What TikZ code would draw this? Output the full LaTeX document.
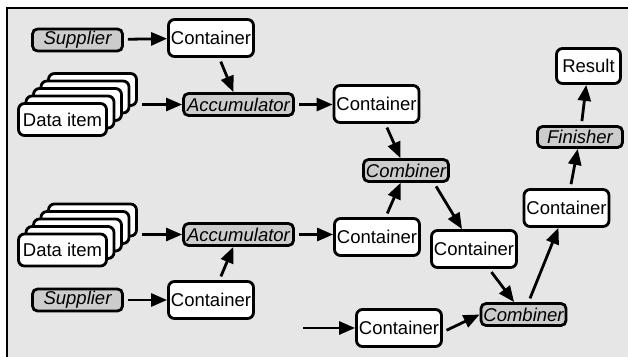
\documentclass[tikz,border=0pt]{standalone}
\usepackage{fontspec}
\setmainfont{Liberation Sans}
\usepackage{xcolor}
\usetikzlibrary{arrows.meta}
\definecolor{panelgray}{HTML}{E6E6E6}
\definecolor{stepgray}{HTML}{CCCCCC}

\begin{document}
\begin{tikzpicture}[x=1pt,y=-1pt,
	box/.style={draw, line width=2.8pt, rounded corners=6pt, fill=white, inner sep=0pt, font=\fontsize{18.5}{20}\selectfont},
	container/.style={box, minimum width=85pt, minimum height=37pt},
	dataitem/.style={box, minimum width=88pt, minimum height=32pt},
	func/.style={box, fill=stepgray, rounded corners=5pt, font=\fontsize{18.5}{20}\selectfont\itshape, minimum height=22pt},
	arr/.style={line width=2.8pt, -{Triangle[length=16pt,width=13pt]}, shorten <=4pt}]
\useasboundingbox (0,0) rectangle (628,356);
\fill[panelgray] (6,7) rectangle (640,370);
\draw[line width=2.8pt] (7,370) -- (7,8) -- (640,8);

\node[func, minimum width=90pt] (sup1) at (77.5,40) {Supplier};
\node[container] (cont1) at (211,38) {Container};
\node[dataitem] (data1d) at (92.5,89.5) {};
\node[dataitem] (data1c) at (85,97) {};
\node[dataitem] (data1b) at (77.5,104.5) {};
\node[dataitem] (data1a) at (70,112) {};
\node[dataitem] (data1) at (62.5,119.5) {Data item};
\node[func, minimum width=110pt] (acc1) at (238.5,104.5) {Accumulator};
\node[container] (cont2) at (376.5,104) {Container};
\node[func, minimum width=85pt] (comb1) at (406,170.5) {Combiner};

\node[dataitem] (data2d) at (92.5,220) {};
\node[dataitem] (data2c) at (85,227.5) {};
\node[dataitem] (data2b) at (77.5,235) {};
\node[dataitem] (data2a) at (70,242.5) {};
\node[dataitem] (data2) at (62.5,250) {Data item};
\node[func, minimum width=110pt] (acc2) at (238.5,234.5) {Accumulator};
\node[func, minimum width=90pt] (sup2) at (77.5,300) {Supplier};
\node[container] (cont3) at (211,300) {Container};
\node[container] (cont4) at (377,237) {Container};
\node[container] (cont5) at (474,249) {Container};
\node[func, minimum width=85pt] (comb2) at (523.5,314.5) {Combiner};
\node[container] (cont6) at (399,328) {Container};
\coordinate (in6) at (303,328);
\node[container] (cont7) at (566.5,208) {Container};
\node[func, minimum width=85pt, minimum height=21pt] (fin) at (580,137) {Finisher};
\node[box, minimum width=64pt, minimum height=35pt] (res) at (588.5,66) {Result};

\draw[arr] (sup1) -- (cont1);
\draw[arr] (cont1) -- (acc1);
\draw[arr] (data1d.east |- acc1.west) -- (acc1.west);
\draw[arr] (acc1.east) -- (acc1.east -| cont2.west);
\draw[arr] (cont2) -- (comb1);
\draw[arr] (data2d.east |- acc2.west) -- (acc2.west);
\draw[arr] (sup2) -- (cont3);
\draw[arr] (cont3) -- (acc2);
\draw[arr] (acc2.east) -- (acc2.east -| cont4.west);
\draw[arr] (cont4) -- (comb1);
\draw[arr] ([xshift=28pt]comb1.south) -- ([xshift=-12pt]cont5.north);
\draw[arr] (cont5) -- (comb2);
\draw[arr, shorten <=0pt] (in6) -- (cont6.west);
\draw[arr] ([yshift=-4pt]cont6.east) -- (comb2.west);
\draw[arr] (comb2) -- (cont7);
\draw[arr] (cont7) -- (fin);
\draw[arr] (fin) -- (res);
\end{tikzpicture}
\end{document}
